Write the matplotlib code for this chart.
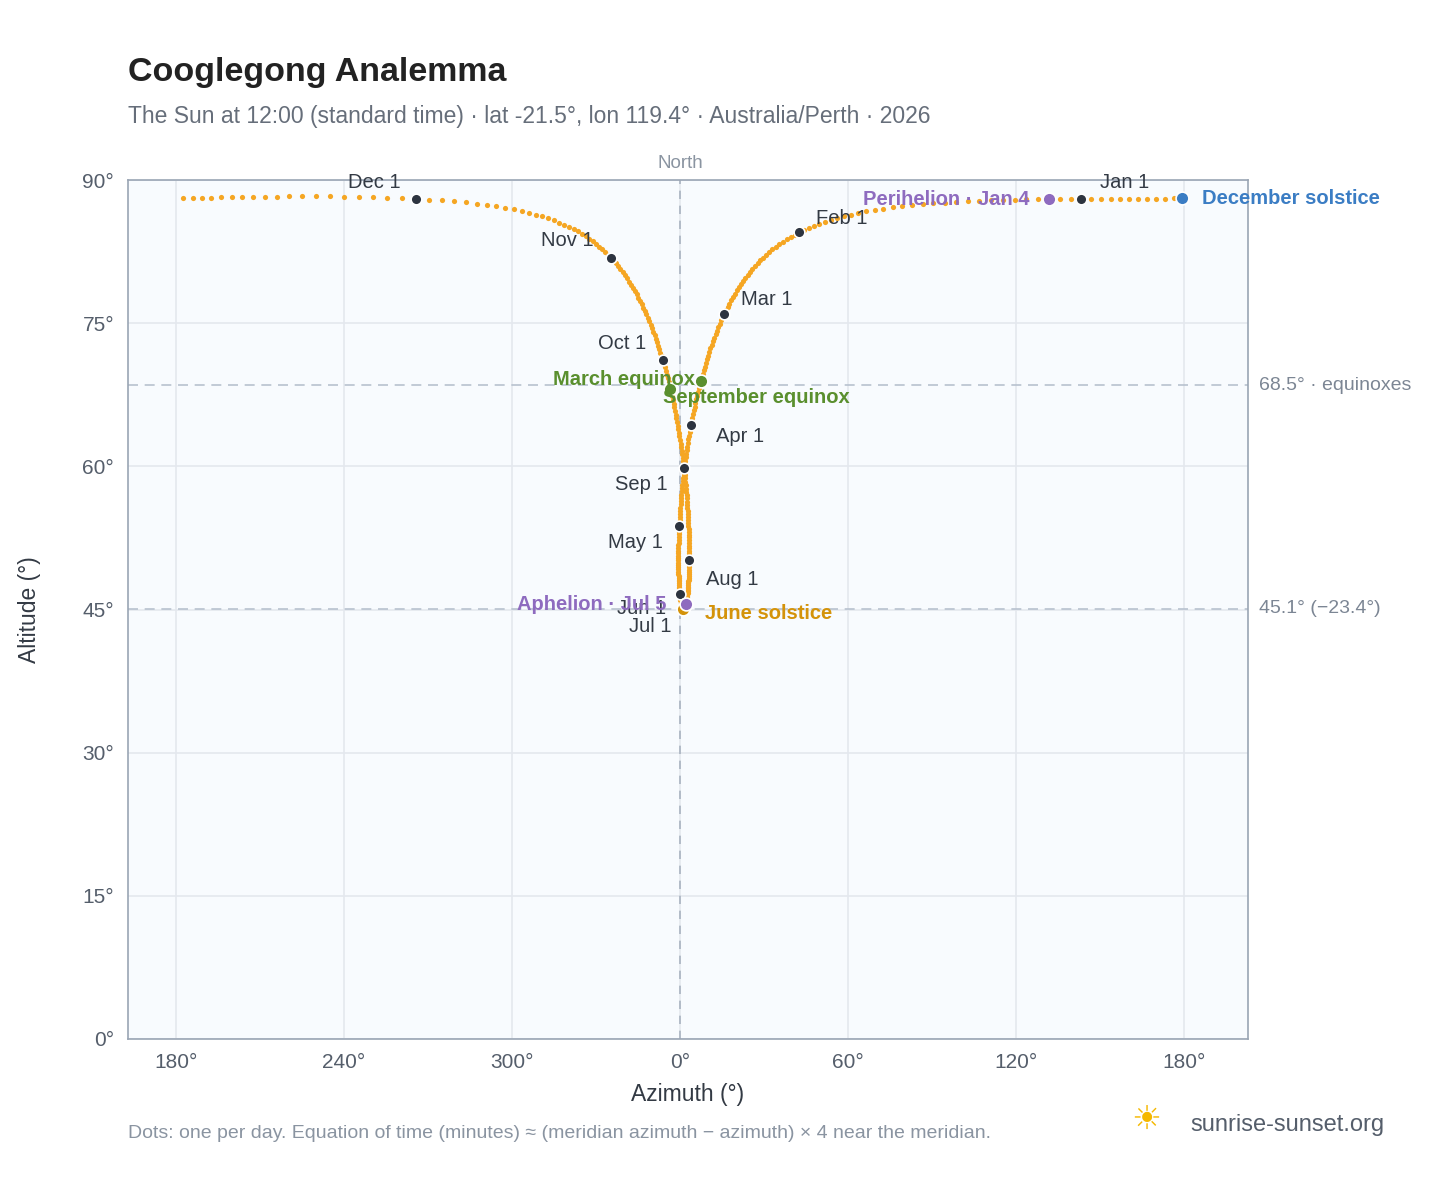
import numpy as np
import matplotlib
matplotlib.use("Agg")
import matplotlib.pyplot as plt
import datetime as dt

plt.rcParams['font.family'] = ['Liberation Sans', 'DejaVu Sans']

LAT, LON, TZ, YEAR = -21.5, 119.4, 8, 2026
month_labels = ["Jan 1","Feb 1","Mar 1","Apr 1","May 1","Jun 1","Jul 1","Aug 1","Sep 1","Oct 1","Nov 1","Dec 1"]
month_offsets = [(14,12,"left"),(12,10,"left"),(12,10,"left"),(18,-8,"left"),
                 (-12,-12,"right"),(-10,-10,"right"),(-10,-14,"right"),(12,-14,"left"),
                 (-12,-12,"right"),(-12,12,"right"),(-12,12,"right"),(-30,12,"center")]
events = [("March equinox", (3,20), "#5a8f2e", (-4,1,"right")),
          ("September equinox", (9,23), "#5a8f2e", (-5,-6,"left")),
          ("June solstice", (6,21), "#d4930a", (16,-3,"left")),
          ("December solstice", (12,21), "#3b7dc4", (14,0,"left")),
          ("Perihelion · Jan 4", (1,4), "#8e6bbf", (-14,0,"right")),
          ("Aphelion · Jul 5", (7,5), "#8e6bbf", (-14,0,"right"))]
eq_alt, sol_alt = 68.5, 45.1

def sunpos(date):
    doy = date.timetuple().tm_yday
    hour_utc = 12 - TZ
    g = 2*np.pi/365*(doy-1+(hour_utc-12)/24)
    eot = 229.18*(0.000075+0.001868*np.cos(g)-0.032077*np.sin(g)-0.014615*np.cos(2*g)-0.040849*np.sin(2*g))
    dec = (0.006918-0.399912*np.cos(g)+0.070257*np.sin(g)-0.006758*np.cos(2*g)+0.000907*np.sin(2*g)
           -0.002697*np.cos(3*g)+0.00148*np.sin(3*g))
    tst = 12*60 + eot + 4*LON - 60*TZ
    ha = np.radians(tst/4 - 180)
    lat = np.radians(LAT)
    cz = np.sin(lat)*np.sin(dec)+np.cos(lat)*np.cos(dec)*np.cos(ha)
    alt = np.degrees(np.arcsin(cz))
    az = np.degrees(np.arctan2(-np.sin(ha), np.tan(dec)*np.cos(lat)-np.sin(lat)*np.cos(ha))) % 360
    if az > 180: az -= 360
    return az, alt

days = [dt.date(YEAR,1,1)+dt.timedelta(i) for i in range(365)]
pts = np.array([sunpos(d) for d in days])

fig = plt.figure(figsize=(14.48,11.88), dpi=100)
ax = fig.add_axes([128/1448, 1-1039/1188, 1120/1448, 859/1188])
ax.set_facecolor("#f8fbfe")
ax.set_xlim(-197.1, 202.9); ax.set_ylim(0, 90)
xt = [-180,-120,-60,0,60,120,180]
ax.set_xticks(xt); ax.set_xticklabels(["180°","240°","300°","0°","60°","120°","180°"])
ax.set_yticks(range(0,91,15)); ax.set_yticklabels([f"{v}°" for v in range(0,91,15)])
ax.grid(color="#e4e8ee", lw=1.2); ax.set_axisbelow(True)
for s in ax.spines.values(): s.set_color("#9aa5b4"); s.set_linewidth(1.2)
ax.tick_params(colors="#555e6b", labelsize=15, length=0, pad=10)
ax.set_xlabel("Azimuth (°)", fontsize=16.5, color="#333a44", labelpad=8)
ax.set_ylabel("Altitude (°)", fontsize=16.5, color="#333a44", labelpad=30)

ax.axvline(0, color="#a9b3c0", ls=(0,(5,4)), lw=1.2)
ax.axhline(eq_alt, color="#b8c2cf", ls=(0,(6,4)), lw=1.2)
ax.axhline(sol_alt, color="#b8c2cf", ls=(0,(6,4)), lw=1.2)
ax.text(0, 90.8, "North", ha="center", va="bottom", color="#8a94a1", fontsize=13.5)
ax.text(1.01, eq_alt, f"{eq_alt}° · equinoxes", transform=ax.get_yaxis_transform(), va="center", color="#7c8694", fontsize=14)
ax.text(1.01, sol_alt, f"{sol_alt}° (−23.4°)", transform=ax.get_yaxis_transform(), va="center", color="#7c8694", fontsize=14)

ax.scatter(pts[:,0], pts[:,1], s=14, color="#f5a623", lw=0, zorder=3)

for m,(lab,(dx,dy,ha)) in enumerate(zip(month_labels, month_offsets)):
    x,y = sunpos(dt.date(YEAR,m+1,1))
    ax.scatter([x],[y], s=60, color="#2d3440", edgecolor="white", lw=1.2, zorder=5)
    ax.annotate(lab, (x,y), xytext=(dx,dy), textcoords="offset points", ha=ha, va="center",
                fontsize=14.5, color="#333a44", zorder=6)
for lab,(mo,dd),col,(dx,dy,ha) in events:
    x,y = sunpos(dt.date(YEAR,mo,dd))
    ax.scatter([x],[y], s=85, color=col, edgecolor="white", lw=1.2, zorder=5)
    ax.annotate(lab, (x,y), xytext=(dx,dy), textcoords="offset points", ha=ha, va="center",
                fontsize=14.5, color=col, fontweight="bold", zorder=6)

fig.text(128/1448, 1-72/1188, "Cooglegong Analemma", fontsize=24.5, fontweight="bold", color="#222222", va="center")
fig.text(128/1448, 1-116/1188, "The Sun at 12:00 (standard time) · lat -21.5°, lon 119.4° · Australia/Perth · 2026",
         fontsize=16.5, color="#666e7a", va="center")
fig.text(128/1448, 1-1134/1188, "Dots: one per day. Equation of time (minutes) ≈ (meridian azimuth − azimuth) × 4 near the meridian.",
         fontsize=14, color="#8a94a1", va="center")
fig.text(1190/1448, 1-1125/1188, "sunrise-sunset.org", fontsize=17, color="#555e6b", va="center")
fig.text(1146/1448, 1-1120/1188, "☀", fontsize=24, color="#f5b800", va="center", ha="center", family="DejaVu Sans")
fig.savefig("out.png", dpi=100)
